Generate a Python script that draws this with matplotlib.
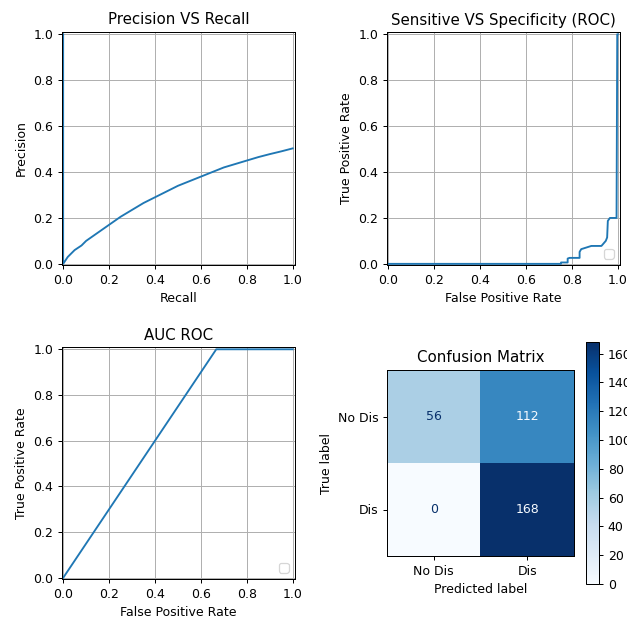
import numpy as np
import matplotlib
matplotlib.use('Agg')
import matplotlib.pyplot as plt

### values

# precision-recall curve (recall goes 1 -> 0, last point is the (0, 1) end)
recall = [1.0, 0.95, 0.9, 0.85, 0.8, 0.75, 0.7, 0.65, 0.6, 0.55, 0.5, 0.45,
          0.4, 0.35, 0.3, 0.25, 0.2, 0.15, 0.1, 0.08, 0.05, 0.02, 0.01, 0.0, 0.0]
precision = [0.503, 0.49, 0.478, 0.465, 0.45, 0.435, 0.42, 0.40, 0.38, 0.36, 0.34, 0.315,
             0.29, 0.265, 0.235, 0.205, 0.17, 0.135, 0.10, 0.08, 0.06, 0.03, 0.015, 0.0, 1.0]

# roc curve (top right)
fpr = [0.0, 0.753, 0.753, 0.782, 0.782, 0.79, 0.834, 0.834, 0.841, 0.863, 0.885,
       0.929, 0.936, 0.948, 0.954, 0.957, 0.966, 0.995, 0.998, 1.0]
tpr = [0.0, 0.0, 0.006, 0.006, 0.023, 0.026, 0.026, 0.052, 0.064, 0.071, 0.078,
       0.078, 0.086, 0.10, 0.115, 0.187, 0.20, 0.20, 1.0, 1.0]

# roc from the hard predictions (bottom left)
auc_fpr = [0.0, 0.667, 1.0]
auc_tpr = [0.0, 1.0, 1.0]

# confusion matrix
class_labels = ['No Dis', 'Dis']
conf_matrix = np.array([[56, 112],
                        [0, 168]])

W, H = 627, 621
fig = plt.figure(figsize=(W / 90, H / 90), dpi=90)


def box(left, top, right, bottom):
    # pixel box -> figure fraction
    return [left / W, 1 - bottom / H, (right - left) / W, (bottom - top) / H]


def style(ax):
    ax.set_xlim(-0.005, 1.01)
    ax.set_ylim(-0.005, 1.01)
    ax.set_xticks(np.arange(0, 1.01, 0.2))
    ax.set_yticks(np.arange(0, 1.01, 0.2))
    ax.grid(True)


# Precision VS Recall
ax1 = fig.add_axes(box(62, 32, 295, 265))
ax1.plot(recall, precision)
style(ax1)
ax1.set_title('Precision VS Recall')
ax1.set_xlabel('Recall')
ax1.set_ylabel('Precision')

# Sensitive VS Specificity (ROC)
ax2 = fig.add_axes(box(387, 32, 620, 265))
ax2.plot(fpr, tpr)
style(ax2)
ax2.set_title('Sensitive VS Specificity (ROC)')
ax2.set_xlabel('False Positive Rate')
ax2.set_ylabel('True Positive Rate')
ax2.legend([], [], loc='lower right')

# AUC ROC
ax3 = fig.add_axes(box(62, 347, 295, 579))
ax3.plot(auc_fpr, auc_tpr)
style(ax3)
ax3.set_title('AUC ROC')
ax3.set_xlabel('False Positive Rate')
ax3.set_ylabel('True Positive Rate')
ax3.legend([], [], loc='lower right')

# Confusion Matrix
ax4 = fig.add_axes(box(387, 370, 574, 556))
cax = fig.add_axes(box(586, 342, 599, 584))
cmap = plt.cm.Blues
im = ax4.imshow(conf_matrix, cmap=cmap, aspect='auto')
fig.colorbar(im, cax=cax)
thresh = (conf_matrix.max() + conf_matrix.min()) / 2
for i in range(2):
    for j in range(2):
        color = cmap(0.0) if conf_matrix[i, j] >= thresh else cmap(1.0)
        ax4.text(j, i, str(conf_matrix[i, j]), ha='center', va='center', color=color)
ax4.set_xticks([0, 1])
ax4.set_xticklabels(class_labels)
ax4.set_yticks([0, 1])
ax4.set_yticklabels(class_labels)
ax4.set_xlabel('Predicted label')
ax4.set_ylabel('True label')
ax4.set_title('Confusion Matrix')

fig.savefig('out.png', dpi=90)
